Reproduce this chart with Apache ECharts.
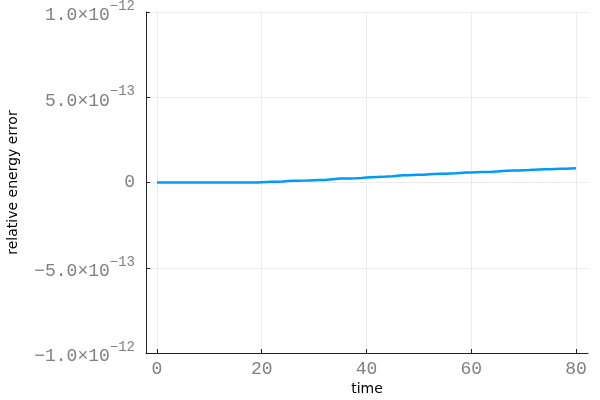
<!DOCTYPE html>
<html>
<head>
<meta charset="utf-8">
<title>relative energy error</title>
<script src="https://cdn.jsdelivr.net/npm/echarts@6/dist/echarts.min.js"></script>
<style>
  html, body { margin: 0; padding: 0; background: #fff; }
  #chart { width: 600px; height: 400px; }
</style>
</head>
<body>
<div id="chart"></div>
<script>
// time samples
const time = [
  0, 1, 2, 3, 4, 5, 6, 7, 8, 9, 10, 11, 12, 13, 14, 15, 16, 17, 18, 19,
  20, 21, 22, 23, 24, 25, 26, 27, 28, 29, 30, 31, 32, 33, 34, 35, 36, 37, 38, 39,
  40, 41, 42, 43, 44, 45, 46, 47, 48, 49, 50, 51, 52, 53, 54, 55, 56, 57, 58, 59,
  60, 61, 62, 63, 64, 65, 66, 67, 68, 69, 70, 71, 72, 73, 74, 75, 76, 77, 78, 79, 80
];
// relative energy error, in units of 1e-14
const errorE14 = [
  0, 0, 0, 0, 0, 0, 0, 0, 0, 0, 0, 0, 0, 0, 0, 0, 0, 0, 0, 0,
  0.2, 0.3, 0.4, 0.5, 0.6, 0.9, 1.0, 1.0, 1.1, 1.2, 1.3, 1.4, 1.5, 1.8, 2.1, 2.3, 2.4, 2.4, 2.5, 2.7,
  3.0, 3.1, 3.2, 3.3, 3.5, 3.7, 4.0, 4.2, 4.3, 4.4, 4.5, 4.6, 4.8, 5.0, 5.1, 5.2, 5.3, 5.4, 5.6, 5.8,
  5.9, 6.0, 6.1, 6.2, 6.3, 6.5, 6.7, 6.9, 7.0, 7.1, 7.2, 7.3, 7.5, 7.6, 7.7, 7.8, 7.9, 8.0, 8.1, 8.2, 8.3
];
const xTicks = [0, 20, 40, 60, 80];
const yTicks = [-1e-12, -5e-13, 0, 5e-13, 1e-12];

const UNIT = 1e-14;
const tickFont = "'Liberation Mono', monospace";
const tickColor = '#808080';

// 1.0e-12 -> "1.0×10" with superscript "-12"
function sciLabel(v) {
  if (Math.abs(v) < 1e-16) return '{b|0}';
  const parts = v.toExponential(1).split('e');
  const mant = parts[0].replace('-', '\u2212');
  const exp = String(parseInt(parts[1], 10)).replace('-', '\u2212');
  return '{b|' + mant + '\u00d710}{s|' + exp + '}';
}

const points = time.map((t, i) => [t, errorE14[i] * UNIT]);

const chart = echarts.init(document.getElementById('chart'), null, { renderer: 'canvas' });
chart.setOption({
  animation: false,
  backgroundColor: '#fff',
  grid: { left: 146, right: 12, top: 12, bottom: 47, containLabel: false, outerBoundsMode: 'none' },
  xAxis: {
    type: 'value',
    min: -2.1,
    max: 82.3,
    name: 'time',
    nameLocation: 'middle',
    nameGap: 29,
    nameMoveOverlap: false,
    nameTextStyle: { fontFamily: 'DejaVu Sans', fontSize: 14, color: '#000' },
    axisLine: { show: true, onZero: false, lineStyle: { color: '#222', width: 1 } },
    axisTick: { show: true, inside: true, length: 4, customValues: xTicks, lineStyle: { color: '#222' } },
    axisLabel: {
      customValues: xTicks,
      margin: 7,
      fontFamily: tickFont,
      fontSize: 18,
      color: tickColor
    },
    splitLine: { show: true, lineStyle: { color: '#ececec', width: 1 } }
  },
  yAxis: {
    type: 'value',
    min: -1e-12,
    max: 1e-12,
    name: 'relative energy error',
    nameLocation: 'middle',
    nameGap: 126,
    nameMoveOverlap: false,
    nameTextStyle: { fontFamily: 'DejaVu Sans', fontSize: 14, color: '#000' },
    axisLine: { show: true, onZero: false, lineStyle: { color: '#222', width: 1 } },
    axisTick: { show: true, inside: true, length: 4, customValues: yTicks, lineStyle: { color: '#222' } },
    axisLabel: {
      customValues: yTicks,
      margin: 11,
      formatter: sciLabel,
      rich: {
        b: { fontFamily: tickFont, fontSize: 18, color: tickColor, verticalAlign: 'bottom' },
        s: { fontFamily: tickFont, fontSize: 14, color: tickColor, verticalAlign: 'bottom', padding: [0, 0, 11, 0] }
      }
    },
    splitLine: { show: true, lineStyle: { color: '#ececec', width: 1 } }
  },
  series: [{
    type: 'line',
    data: points,
    showSymbol: false,
    lineStyle: { color: '#009afa', width: 2.5 },
    itemStyle: { color: '#009afa' }
  }]
});
</script>
</body>
</html>
